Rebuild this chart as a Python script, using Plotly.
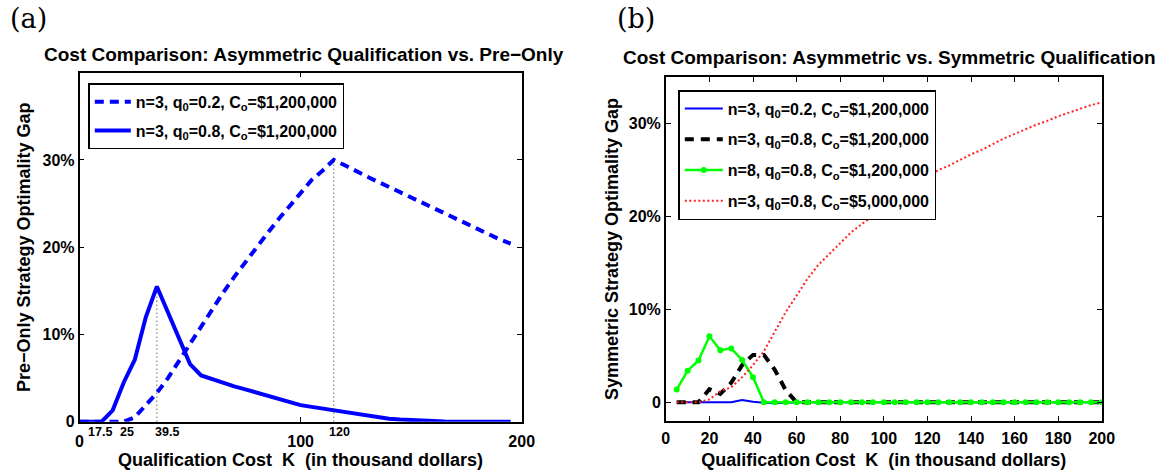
import plotly.graph_objects as go

# ---------------- data: panel (a) ----------------
K_a = list(range(0, 200, 5))  # qualification cost K (thousand $)
gap_q02 = [0, 0, 0, 0, 0, 0.5, 1.9, 3.3, 5.0, 7.0,
           9.0, 11.0, 12.9, 14.8, 16.6, 18.3, 20.0, 21.6, 23.2, 24.7,
           26.3, 27.7, 28.8, 30.0, 29.4, 28.7, 28.1, 27.5, 26.9, 26.3,
           25.7, 25.1, 24.5, 23.8, 23.2, 22.6, 22.0, 21.5, 20.9, 20.4]
gap_q08 = [0, 0, 0, 1.3, 4.5, 7.1, 12.0, 15.5, 12.5, 9.5,
           6.6, 5.3, 4.85, 4.45, 4.05, 3.7, 3.35, 2.95, 2.6, 2.25,
           1.9, 1.7, 1.5, 1.35, 1.1, 0.85, 0.65, 0.5, 0.35, 0.25,
           0.17, 0.1, 0.05, 0.02, 0, 0, 0, 0, 0, 0]
a_ticks = [0, 100, 200]
a_tick_text = ["0", "100", "200"]
a_small_labels = ["17.5", "25", "39.5", "120"]
a_small_pos = [9.3, 21.3, 39.4, 117.8]
a_yticks = [0, 10, 20, 30]
a_ytext = ["0", "10%", "20%", "30%"]

# ---------------- data: panel (b) ----------------
K_b = list(range(5, 205, 5))
sym_n3_q02 = [0, 0, 0, 0, 0, 0, 0.25, 0.05, -0.05, -0.12,
              -0.05, 0] + [0] * 28
sym_n3_q08 = [0, 0, 0, 1.4, 0.9, 2.1, 4.0, 5.1, 5.1, 3.5,
              1.3, 0] + [0] * 28
sym_n8_q08 = [1.37, 3.4, 4.5, 7.1, 5.6, 5.8, 4.55, 2.7, 0] + [0] * 31
sym_n3_q08_5m = [0, 0, 0, 0.3, 1.2, 1.6, 2.7, 4.0, 5.5, 7.6,
                 9.7, 11.5, 13.3, 14.8, 16.0, 17.2, 18.3, 19.2, 20.1, 20.9,
                 21.8, 22.7, 23.5, 24.3, 25.0, 25.5, 26.1, 26.7, 27.2, 27.8,
                 28.4, 28.9, 29.4, 29.9, 30.3, 30.8, 31.2, 31.6, 32.0, 32.3]
b_xticks = list(range(0, 201, 20))
b_yticks = [0, 10, 20, 30]
b_ytext = ["0", "10%", "20%", "30%"]

FONT = "Liberation Sans, Arial, Helvetica, sans-serif"
SERIF = "DejaVu Serif, Liberation Serif, serif"
BLUE = "#0000ff"
GREEN = "#00ff00"
RED = "#ff2020"

fig = go.Figure()

# panel (a) curves
fig.add_trace(go.Scatter(x=K_a, y=gap_q02, mode="lines", xaxis="x", yaxis="y",
                         line=dict(color=BLUE, width=4, dash="9px,6px"),
                         name="n=3, q<sub>0</sub>=0.2, C<sub>o</sub>=$1,200,000",
                         legend="legend", legendgroup="a1"))
fig.add_trace(go.Scatter(x=K_a, y=gap_q08, mode="lines", xaxis="x", yaxis="y",
                         line=dict(color=BLUE, width=4),
                         name="n=3, q<sub>0</sub>=0.8, C<sub>o</sub>=$1,200,000",
                         legend="legend", legendgroup="a2"))
# dotted guide lines at the peaks
for series in (gap_q08, gap_q02):
    i = series.index(max(series))
    fig.add_trace(go.Scatter(x=[K_a[i], K_a[i]], y=[0, series[i]], mode="lines",
                             xaxis="x", yaxis="y", showlegend=False,
                             line=dict(color="#222222", width=1, dash="1px,3px"),
                             hoverinfo="skip"))

# panel (b) curves
fig.add_trace(go.Scatter(x=K_b, y=sym_n3_q02, mode="lines", xaxis="x2", yaxis="y2",
                         line=dict(color=BLUE, width=2),
                         name="n=3, q<sub>0</sub>=0.2, C<sub>o</sub>=$1,200,000",
                         legend="legend2", legendgroup="b1"))
fig.add_trace(go.Scatter(x=K_b, y=sym_n3_q08, mode="lines", xaxis="x2", yaxis="y2",
                         line=dict(color="black", width=4, dash="9px,7px"),
                         name="n=3, q<sub>0</sub>=0.8, C<sub>o</sub>=$1,200,000",
                         legend="legend2", legendgroup="b2"))
fig.add_trace(go.Scatter(x=K_b, y=sym_n8_q08, mode="lines+markers", xaxis="x2", yaxis="y2",
                         line=dict(color=GREEN, width=2.5),
                         marker=dict(color=GREEN, size=6, symbol="circle"),
                         name="n=8, q<sub>0</sub>=0.8, C<sub>o</sub>=$1,200,000",
                         legend="legend2", legendgroup="b3"))
fig.add_trace(go.Scatter(x=K_b, y=sym_n3_q08_5m, mode="lines", xaxis="x2", yaxis="y2",
                         line=dict(color=RED, width=2, dash="2px,2.5px"),
                         name="n=3, q<sub>0</sub>=0.8, C<sub>o</sub>=$5,000,000",
                         legend="legend2", legendgroup="b4"))

W, H = 1164, 475


def px(v):
    return v / W


def py(v):
    return 1 - v / H


axis_common = dict(showline=True, linecolor="black", linewidth=1.5, mirror="ticks",
                   ticks="inside", ticklen=5, tickcolor="black", showgrid=False,
                   zeroline=False, automargin=False,
                   tickfont=dict(family=FONT, size=16, color="black", weight="bold"))
title_font = dict(family=FONT, size=18, color="black", weight="bold")
legend_font = dict(family=FONT, size=16, color="black", weight="bold")

fig.update_layout(
    width=W, height=H,
    margin=dict(l=0, r=0, t=0, b=0),
    paper_bgcolor="white", plot_bgcolor="white",
    showlegend=True,
    xaxis=dict(domain=[px(79.5), px(521.7)], range=[0, 200], anchor="y",
               tickvals=a_ticks, ticktext=a_tick_text, ticklabelstandoff=4,
               title=dict(text="Qualification Cost\u00a0\u00a0K\u00a0\u00a0(in thousand dollars)",
                          font=title_font, standoff=3),
               **axis_common),
    yaxis=dict(domain=[py(421.7), py(72.7)], range=[0, 40], anchor="x",
               tickvals=a_yticks, ticktext=a_ytext,
               title=dict(text="Pre\u2212Only Strategy Optimality Gap",
                          font=title_font, standoff=7),
               **axis_common),
    xaxis2=dict(domain=[px(665.8), px(1101.8)], range=[0, 200], anchor="y2",
                tickvals=b_xticks, ticklabelstandoff=2,
                title=dict(text="Qualification Cost\u00a0\u00a0K\u00a0\u00a0(in thousand dollars)",
                           font=title_font, standoff=8),
                **axis_common),
    yaxis2=dict(domain=[py(420.8), py(77.3)], range=[-2, 35], anchor="x2",
                tickvals=b_yticks, ticktext=b_ytext,
                title=dict(text="Symmetric Strategy Optimality Gap",
                           font=title_font, standoff=6),
                **axis_common),
    legend=dict(x=px(88.3), y=py(83.3), xanchor="left", yanchor="top",
                bgcolor="white", bordercolor="black", borderwidth=1.5,
                font=legend_font, tracegroupgap=5, itemwidth=36),
    legend2=dict(x=px(678.3), y=py(90), xanchor="left", yanchor="top",
                 bgcolor="white", bordercolor="black", borderwidth=1.5,
                 font=legend_font, tracegroupgap=7, itemwidth=38),
)

annotations = [
    dict(text="(a)", x=px(28), y=py(18), xref="paper", yref="paper", showarrow=False,
         xanchor="center", yanchor="middle",
         font=dict(family=SERIF, size=27, color="black")),
    dict(text="(b)", x=px(636), y=py(18), xref="paper", yref="paper", showarrow=False,
         xanchor="center", yanchor="middle",
         font=dict(family=SERIF, size=27, color="black")),
    dict(text="Cost Comparison: Asymmetric Qualification vs. Pre\u2212Only",
         x=px(304), y=py(54), xref="paper", yref="paper", showarrow=False,
         xanchor="center", yanchor="middle",
         font=dict(family=FONT, size=19, color="black", weight="bold")),
    dict(text="Cost Comparison: Asymmetric vs. Symmetric Qualification",
         x=px(889), y=py(58), xref="paper", yref="paper", showarrow=False,
         xanchor="center", yanchor="middle",
         font=dict(family=FONT, size=19, color="black", weight="bold")),
]
for lab, pos in zip(a_small_labels, a_small_pos):
    annotations.append(dict(text=lab, x=pos, y=py(431.5), xref="x", yref="paper",
                            showarrow=False, xanchor="center", yanchor="middle",
                            font=dict(family=FONT, size=12.5, color="black", weight="bold")))
fig.update_layout(annotations=annotations)

fig.write_html("out.html", config={"displayModeBar": False},
               post_script="document.body.style.margin='0';document.body.style.padding='0';")
